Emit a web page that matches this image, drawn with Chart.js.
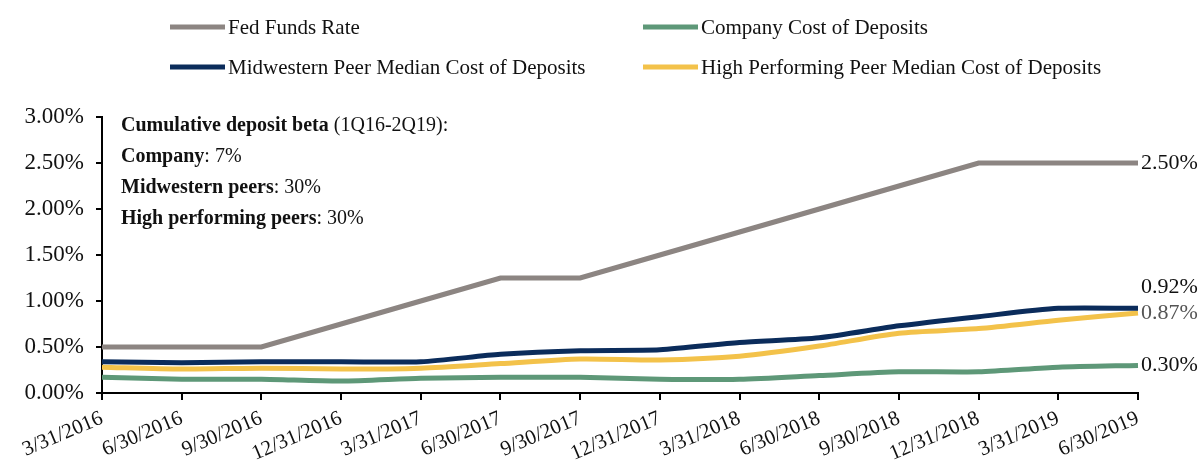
<!DOCTYPE html>
<html>
<head>
<meta charset="utf-8">
<script src="https://cdn.jsdelivr.net/npm/chart.js@4.4.1/dist/chart.umd.min.js"></script>
<style>
  body { margin: 0; background: #fff; }
  #wrap { position: relative; width: 1198px; height: 463px; font-family: "Liberation Serif", "Times New Roman", serif; color: #111; }
  #chart { position: absolute; left: 0; top: 0; }
  .leg { position: absolute; display: flex; align-items: center; font-size: 21px; white-space: nowrap; transform: translateY(-50%); }
  .leg i { display: inline-block; width: 55px; height: 5px; margin-right: 3px; }
  #note { position: absolute; left: 121px; top: 109px; font-size: 20px; line-height: 31px; }
</style>
</head>
<body>
<div id="wrap">
  <canvas id="chart" width="1198" height="463"></canvas>
  <div id="legend"></div>
  <div id="note">
    <div><b>Cumulative deposit beta</b> (1Q16-2Q19):</div>
    <div><b>Company</b>: 7%</div>
    <div><b>Midwestern peers</b>: 30%</div>
    <div><b>High performing peers</b>: 30%</div>
  </div>
</div>
<script>
const quarters = ["3/31/2016", "6/30/2016", "9/30/2016", "12/31/2016", "3/31/2017", "6/30/2017", "9/30/2017",
  "12/31/2017", "3/31/2018", "6/30/2018", "9/30/2018", "12/31/2018", "3/31/2019", "6/30/2019"];
const fedFunds = [0.50, 0.50, 0.50, 0.75, 1.00, 1.25, 1.25, 1.50, 1.75, 2.00, 2.25, 2.50, 2.50, 2.50];
const companyCost = [0.17, 0.15, 0.15, 0.13, 0.16, 0.17, 0.17, 0.15, 0.15, 0.19, 0.23, 0.23, 0.28, 0.30];
const midwestCost = [0.34, 0.33, 0.34, 0.34, 0.34, 0.42, 0.46, 0.47, 0.55, 0.60, 0.73, 0.83, 0.92, 0.92];
const highPerfCost = [0.28, 0.26, 0.27, 0.26, 0.27, 0.32, 0.37, 0.36, 0.40, 0.51, 0.65, 0.70, 0.79, 0.87];

const FONT = '"Liberation Serif", "Times New Roman", serif';

const datasets = [
  { label: "Fed Funds Rate", data: fedFunds, borderColor: "#8c8582", borderWidth: 5, tension: 0,
    endLabel: { dy: 0, color: "#111" }, legendPos: [170, 27] },
  { label: "Company Cost of Deposits", data: companyCost, borderColor: "#5e9878", borderWidth: 5, tension: 0.25,
    endLabel: { dy: 0, color: "#111" }, legendPos: [643, 27] },
  { label: "Midwestern Peer Median Cost of Deposits", data: midwestCost, borderColor: "#0b2c5b", borderWidth: 5, tension: 0.25,
    endLabel: { dy: -21, color: "#111" }, legendPos: [170, 67] },
  { label: "High Performing Peer Median Cost of Deposits", data: highPerfCost, borderColor: "#f3c24a", borderWidth: 5, tension: 0.25,
    endLabel: { dy: 0, color: "#555" }, legendPos: [643, 67] },
];

// html legend, two columns
const legendEl = document.getElementById("legend");
for (const ds of datasets) {
  const d = document.createElement("div");
  d.className = "leg";
  d.style.left = ds.legendPos[0] + "px";
  d.style.top = ds.legendPos[1] + "px";
  const sw = document.createElement("i");
  sw.style.background = ds.borderColor;
  d.appendChild(sw);
  d.appendChild(document.createTextNode(ds.label));
  legendEl.appendChild(d);
}

const endLabels = {
  id: "endLabels",
  afterDatasetsDraw(chart) {
    const ctx = chart.ctx;
    ctx.save();
    ctx.font = "22px " + FONT;
    ctx.textBaseline = "middle";
    ctx.textAlign = "left";
    chart.data.datasets.forEach((ds, i) => {
      const meta = chart.getDatasetMeta(i);
      const pt = meta.data[meta.data.length - 1];
      const v = ds.data[ds.data.length - 1];
      ctx.fillStyle = ds.endLabel.color;
      ctx.fillText(v.toFixed(2) + "%", pt.x + 3, pt.y + ds.endLabel.dy);
    });
    ctx.restore();
  },
};

new Chart(document.getElementById("chart"), {
  type: "line",
  data: {
    labels: quarters,
    datasets: datasets.map((ds) => ({ ...ds, pointRadius: 0, fill: false })),
  },
  options: {
    responsive: false,
    animation: false,
    layout: { padding: { top: 117, right: 60, left: 0, bottom: 0 } },
    plugins: { legend: { display: false }, tooltip: { enabled: false } },
    scales: {
      x: {
        offset: false,
        grid: { drawOnChartArea: false, color: "#000", lineWidth: 2, tickLength: 7 },
        border: { color: "#000", width: 2 },
        ticks: { color: "#111", font: { family: FONT, size: 21 }, minRotation: 23, maxRotation: 23, padding: 6, autoSkip: false },
        afterFit: (s) => { s.height = 70; },
      },
      y: {
        min: 0,
        max: 3,
        grid: { drawOnChartArea: false, color: "#000", lineWidth: 2, tickLength: 6 },
        border: { color: "#000", width: 2 },
        ticks: { stepSize: 0.5, color: "#111", font: { family: FONT, size: 23 }, padding: 12,
          callback: (v) => v.toFixed(2) + "%" },
        afterFit: (s) => { s.width = 102; },
      },
    },
  },
  plugins: [endLabels],
});
</script>
</body>
</html>
